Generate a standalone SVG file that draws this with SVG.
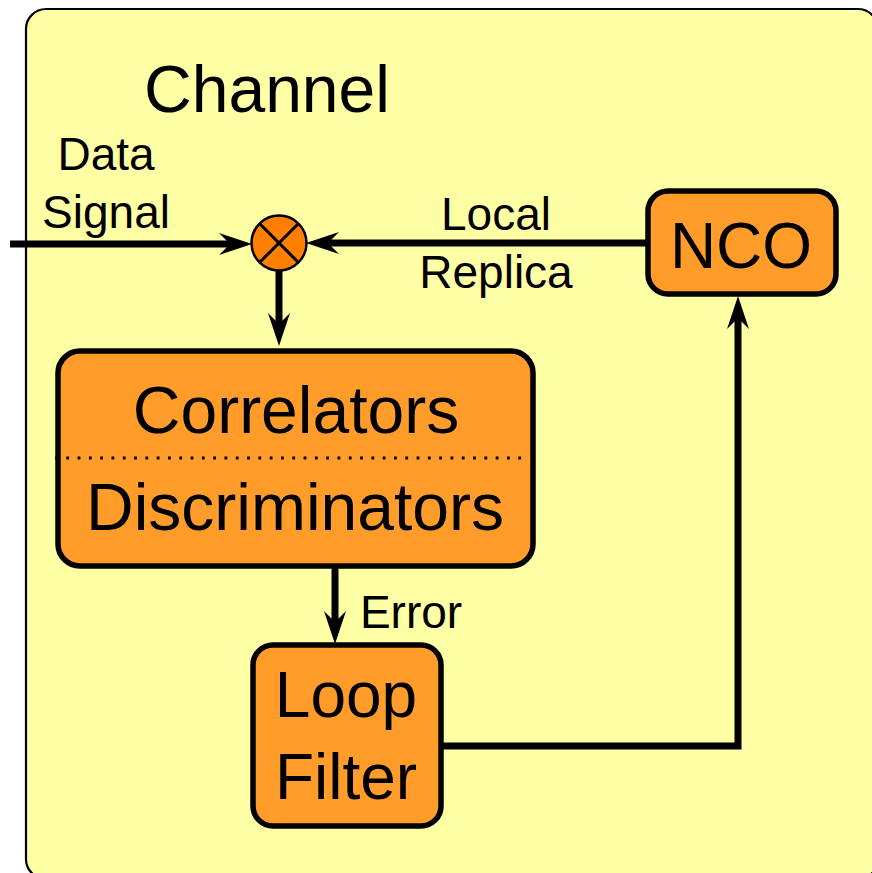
<svg xmlns="http://www.w3.org/2000/svg" width="872" height="873" viewBox="0 0 872 873">
<style>
.box{fill:#ff9c2a;stroke:#000;stroke-width:5.5}
.wire{fill:none;stroke:#000;stroke-width:7}
.t{font-family:"Liberation Sans",Arial,sans-serif;fill:#000}
.big{font-size:66px}
.small{font-size:46px}
</style>
<defs>
<marker id="arr" markerUnits="userSpaceOnUse" viewBox="-34 -12 35 24" markerWidth="35" markerHeight="24" refX="-22" refY="0" orient="auto" overflow="visible">
<path d="M0,0 L-33,-11 L-22,0 L-33,11 Z" fill="#000"/>
</marker>
</defs>
<rect x="26" y="9" width="852" height="870" rx="20" fill="#ffffa6" stroke="#000" stroke-width="2.2"/>
<text class="t big" x="267" y="112" text-anchor="middle">Channel</text>
<g id="connectors">
<path class="wire" d="M10,244 H230" marker-end="url(#arr)"/>
<path class="wire" d="M648,243 H328" marker-end="url(#arr)"/>
<path class="wire" d="M279,270 V324" marker-end="url(#arr)"/>
<path class="wire" d="M335,567 V622" marker-end="url(#arr)"/>
<path class="wire" d="M443,746 H738 V318" marker-end="url(#arr)"/>
</g>
<g id="labels">
<text class="t small" x="106" y="170" text-anchor="middle">Data</text>
<text class="t small" x="106" y="228" text-anchor="middle">Signal</text>
<text class="t small" x="496" y="230" text-anchor="middle">Local</text>
<text class="t small" x="496" y="288" text-anchor="middle">Replica</text>
<text class="t small" x="411" y="628" text-anchor="middle">Error</text>
</g>
<g id="mixer">
<circle cx="279" cy="243" r="27.5" fill="#ff7f00" stroke="#000" stroke-width="2.5"/>
<path d="M260,224 L298,262 M298,224 L260,262" stroke="#000" stroke-width="3"/>
</g>
<g id="nco">
<rect class="box" x="648" y="191" width="188" height="103" rx="20"/>
<text class="t" x="741" y="268" text-anchor="middle" font-size="64">NCO</text>
</g>
<g id="correlators">
<rect class="box" x="58" y="351" width="475" height="215" rx="22"/>
<line x1="55" y1="458" x2="528" y2="458" stroke="#000" stroke-width="2.8" stroke-dasharray="2.8,8.5"/>
<text class="t big" x="296" y="433" text-anchor="middle">Correlators</text>
<text class="t big" x="295" y="530" text-anchor="middle">Discriminators</text>
</g>
<g id="loopfilter">
<rect class="box" x="253" y="645" width="188" height="181" rx="20"/>
<text class="t" x="346" y="717" text-anchor="middle" font-size="64">Loop</text>
<text class="t" x="346" y="799" text-anchor="middle" font-size="64">Filter</text>
</g>
</svg>
